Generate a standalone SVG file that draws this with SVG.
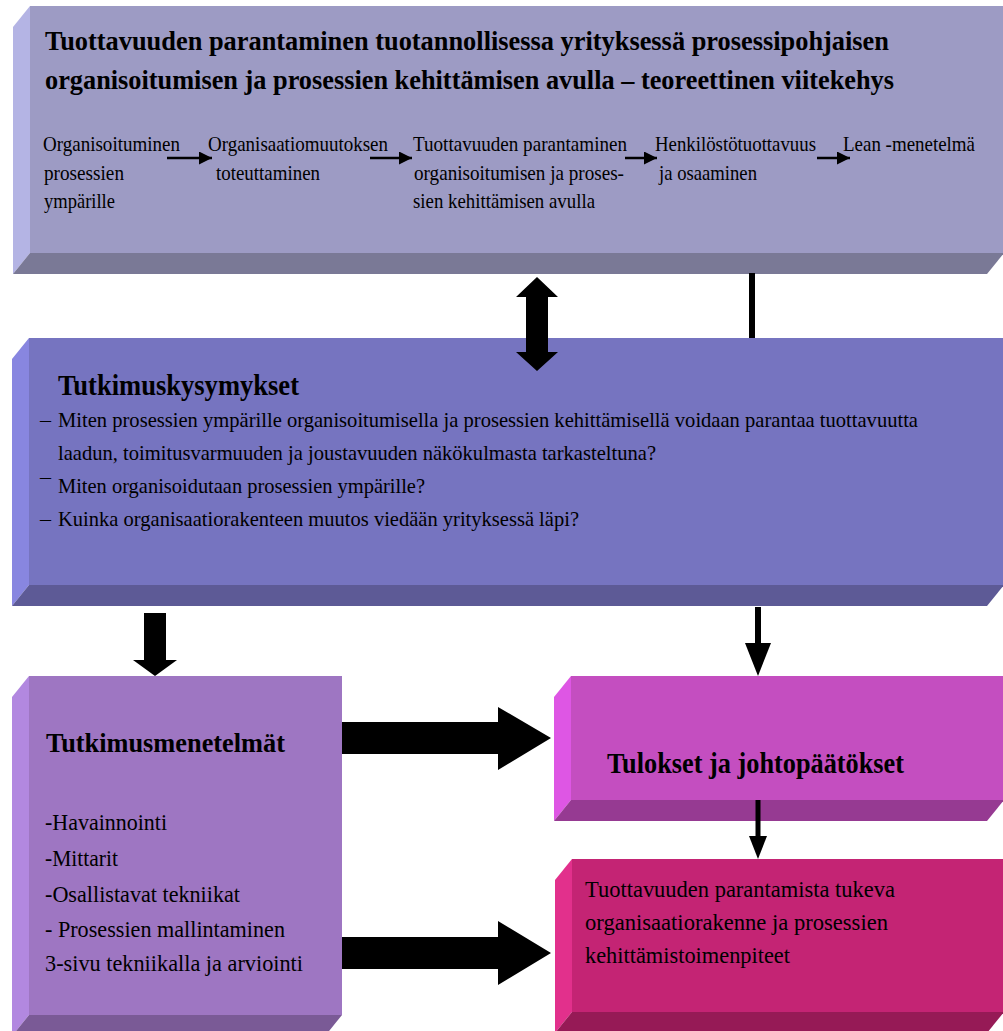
<svg xmlns="http://www.w3.org/2000/svg" width="1003" height="1031" viewBox="0 0 1003 1031">
  <style>
    text { font-family: "Liberation Serif", "Times New Roman", serif; fill: #000; }
    .h { font-weight: bold; }
    .t { font-size: 22px; }
    .s { font-size: 21px; }
    .m { font-size: 23px; }
    .b5 { font-size: 24px; }
    /* face / side / base colours of the bevelled boxes */
    .n1 .face { fill: #9d9bc4; } .n1 .side { fill: #b4b4e4; } .n1 .base { fill: #7a7996; }
    .n2 .face { fill: #7674c0; } .n2 .side { fill: #8886e0; } .n2 .base { fill: #5d5a96; }
    .n3 .face { fill: #9e76c2; } .n3 .side { fill: #b288e0; } .n3 .base { fill: #7a5a96; }
    .n4 .face { fill: #c44ec0; } .n4 .side { fill: #de56e4; } .n4 .base { fill: #963a92; }
    .n5 .face { fill: #c42474; } .n5 .side { fill: #e2308c; } .n5 .base { fill: #961a56; }
    .blk { fill: #000; }
    .ln { stroke: #000; fill: none; }
  </style>
  <defs>
    <marker id="tip" viewBox="0 0 12 12" refX="12" refY="6" markerUnits="userSpaceOnUse" markerWidth="13" markerHeight="13" orient="auto">
      <path d="M0,0 L12,6 L0,12 z" fill="#000"/>
    </marker>
  </defs>
  <rect width="1003" height="1031" fill="#fff"/>

  <!-- Theoretical framework -->
  <g id="node-framework" class="n1">
    <rect class="face" x="30" y="6" width="974" height="247"/>
    <polygon class="side" points="13,27 30,6 30,253 13,274"/>
    <polygon class="base" points="30,253 1004,253 987,274 13,274"/>
    <text class="h" font-size="28" x="45" y="50" textLength="844" lengthAdjust="spacingAndGlyphs">Tuottavuuden parantaminen tuotannollisessa yrityksessä prosessipohjaisen</text>
    <text class="h" font-size="28" x="45" y="89" textLength="849" lengthAdjust="spacingAndGlyphs">organisoitumisen ja prosessien kehittämisen avulla – teoreettinen viitekehys</text>
    <g class="s">
      <text x="43" y="151" textLength="137" lengthAdjust="spacingAndGlyphs">Organisoituminen</text>
      <text x="44" y="180" textLength="80" lengthAdjust="spacingAndGlyphs">prosessien</text>
      <text x="44" y="208" textLength="71" lengthAdjust="spacingAndGlyphs">ympärille</text>
      <text x="208" y="151" textLength="180" lengthAdjust="spacingAndGlyphs">Organisaatiomuutoksen</text>
      <text x="216" y="180" textLength="104" lengthAdjust="spacingAndGlyphs">toteuttaminen</text>
      <text x="413" y="151" textLength="214" lengthAdjust="spacingAndGlyphs">Tuottavuuden parantaminen</text>
      <text x="414" y="180" textLength="210" lengthAdjust="spacingAndGlyphs">organisoitumisen ja  proses-</text>
      <text x="413" y="208" textLength="182" lengthAdjust="spacingAndGlyphs">sien kehittämisen avulla</text>
      <text x="655" y="151" textLength="161" lengthAdjust="spacingAndGlyphs">Henkilöstötuottavuus</text>
      <text x="659" y="180" textLength="98" lengthAdjust="spacingAndGlyphs">ja osaaminen</text>
      <text x="843" y="151" textLength="132" lengthAdjust="spacingAndGlyphs">Lean -menetelmä</text>
    </g>
    <g class="ln" stroke-width="2.5">
      <line x1="167" y1="158" x2="212" y2="158" marker-end="url(#tip)"/>
      <line x1="370" y1="158" x2="412" y2="158" marker-end="url(#tip)"/>
      <line x1="625" y1="158" x2="657" y2="158" marker-end="url(#tip)"/>
      <line x1="817" y1="158" x2="850" y2="158" marker-end="url(#tip)"/>
    </g>
  </g>

  <!-- Research questions -->
  <g id="node-questions" class="n2">
    <rect class="face" x="29" y="338" width="975" height="247"/>
    <polygon class="side" points="12,359 29,338 29,585 12,606"/>
    <polygon class="base" points="29,585 1004,585 987,606 12,606"/>
    <text class="h" font-size="30" x="58" y="395" textLength="241" lengthAdjust="spacingAndGlyphs">Tutkimuskysymykset</text>
    <g class="t">
      <text x="40" y="427">–</text>
      <text x="58" y="427" textLength="860" lengthAdjust="spacingAndGlyphs">Miten prosessien ympärille organisoitumisella ja prosessien kehittämisellä voidaan parantaa tuottavuutta</text>
      <text x="58" y="460" textLength="598" lengthAdjust="spacingAndGlyphs">laadun, toimitusvarmuuden ja joustavuuden näkökulmasta tarkasteltuna?</text>
      <text x="40" y="484">–</text>
      <text x="58" y="493" textLength="367" lengthAdjust="spacingAndGlyphs">Miten organisoidutaan prosessien ympärille?</text>
      <text x="40" y="526">–</text>
      <text x="58" y="526" textLength="521" lengthAdjust="spacingAndGlyphs">Kuinka organisaatiorakenteen muutos viedään yrityksessä läpi?</text>
    </g>
  </g>

  <!-- Research methods -->
  <g id="node-methods" class="n3">
    <rect class="face" x="29" y="676" width="313" height="339"/>
    <polygon class="side" points="12,697 29,676 29,1015 12,1036"/>
    <polygon class="base" points="29,1015 342,1015 325,1036 12,1036"/>
    <text class="h" font-size="28" x="46" y="752" textLength="239" lengthAdjust="spacingAndGlyphs">Tutkimusmenetelmät</text>
    <g class="m">
      <text x="45" y="830" textLength="122" lengthAdjust="spacingAndGlyphs">-Havainnointi</text>
      <text x="45" y="866" textLength="73" lengthAdjust="spacingAndGlyphs">-Mittarit</text>
      <text x="45" y="902" textLength="195" lengthAdjust="spacingAndGlyphs">-Osallistavat tekniikat</text>
      <text x="45" y="937" textLength="240" lengthAdjust="spacingAndGlyphs">- Prosessien mallintaminen</text>
      <text x="45" y="971" textLength="258" lengthAdjust="spacingAndGlyphs">3-sivu tekniikalla ja arviointi</text>
    </g>
  </g>

  <!-- Results and conclusions -->
  <g id="node-results" class="n4">
    <rect class="face" x="571" y="676" width="433" height="124"/>
    <polygon class="side" points="554,697 571,676 571,800 554,821"/>
    <polygon class="base" points="571,800 1004,800 987,821 554,821"/>
    <text class="h" font-size="30" x="607" y="773" textLength="297" lengthAdjust="spacingAndGlyphs">Tulokset ja johtopäätökset</text>
  </g>

  <!-- Organisational structure and process development -->
  <g id="node-outcome" class="n5">
    <rect class="face" x="572" y="859" width="432" height="153"/>
    <polygon class="side" points="555,880 572,859 572,1012 555,1033"/>
    <polygon class="base" points="572,1012 1004,1012 987,1033 555,1033"/>
    <g class="b5">
      <text x="585" y="897" textLength="310" lengthAdjust="spacingAndGlyphs">Tuottavuuden parantamista tukeva</text>
      <text x="585" y="930" textLength="303" lengthAdjust="spacingAndGlyphs">organisaatiorakenne ja prosessien</text>
      <text x="585" y="963" textLength="205" lengthAdjust="spacingAndGlyphs">kehittämistoimenpiteet</text>
    </g>
  </g>

  <!-- Connectors -->
  <g id="connectors">
    <polygon class="blk" points="537,277 558,297 548,297 548,352 558,352 537,371 516,352 526,352 526,297 516,297"/>
    <line class="ln" x1="752" y1="273" x2="752" y2="338" stroke-width="6"/>
    <polygon class="blk" points="144,613 166,613 166,660 177,660 155,676 133,660 144,660"/>
    <line class="ln" x1="758" y1="607" x2="758" y2="646" stroke-width="6"/>
    <polygon class="blk" points="745,643 771,643 758,676"/>
    <line class="ln" x1="758" y1="800" x2="758" y2="838" stroke-width="5"/>
    <polygon class="blk" points="749,836 767,836 758,859"/>
    <polygon class="blk" points="342,722 498,722 498,707 551,738 498,770 498,754 342,754"/>
    <polygon class="blk" points="342,937 498,937 498,921 551,953 498,985 498,969 342,969"/>
  </g>
</svg>
